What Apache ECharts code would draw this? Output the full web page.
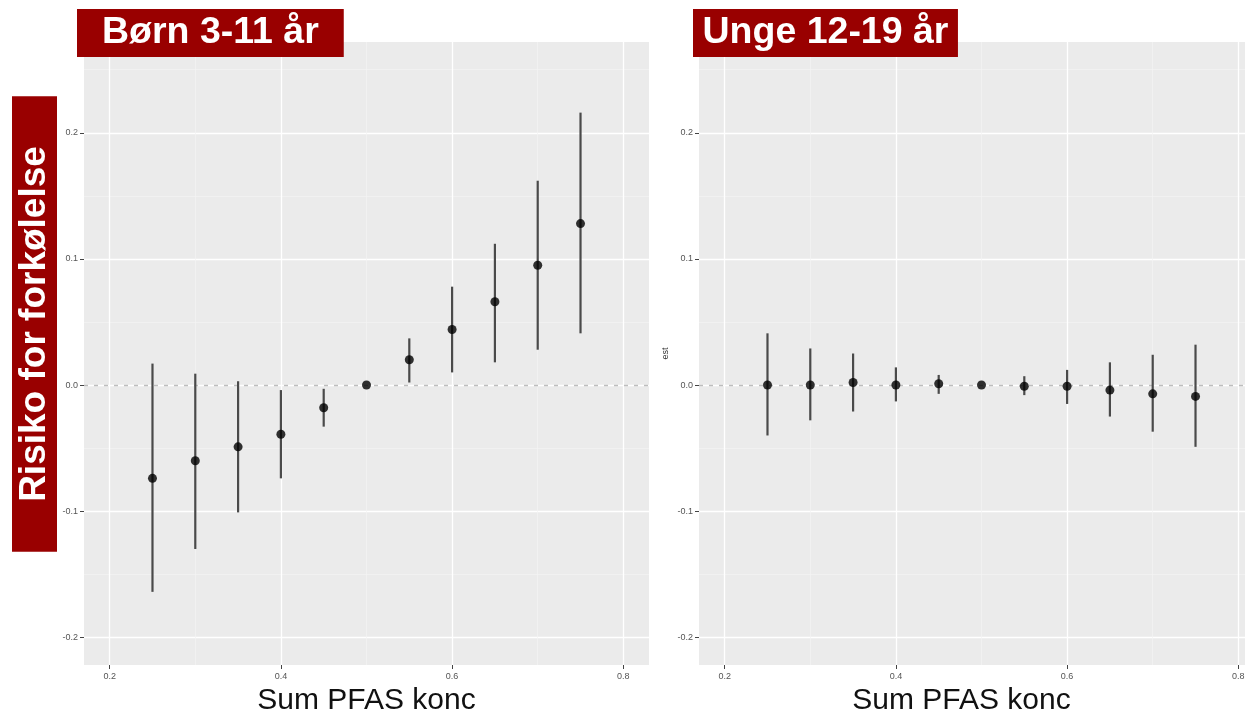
<!DOCTYPE html>
<html>
<head>
    <meta charset="utf-8" />
    <title>PFAS og forkølelse</title>
    <script src="https://cdn.jsdelivr.net/npm/echarts@6/dist/echarts.min.js"></script>
    <style>
        html, body {
            width: 100%;
            height: 100%;
            margin: 0px;
            padding: 0px;
            background: #fff;
        }
        #main {
            width: 1245px;
            height: 712px;
        }
    </style>
</head>
<body>
    <div id="main"></div>
</body>
<script type="text/javascript">
    // values
    var conc = [0.25, 0.30, 0.35, 0.40, 0.45, 0.50, 0.55, 0.60, 0.65, 0.70, 0.75];

    var childEst = [-0.074, -0.060, -0.049, -0.039, -0.018, 0, 0.020, 0.044, 0.066, 0.095, 0.128];
    var childLo = [-0.164, -0.130, -0.101, -0.074, -0.033, 0, 0.002, 0.010, 0.018, 0.028, 0.041];
    var childHi = [0.017, 0.009, 0.003, -0.004, -0.003, 0, 0.037, 0.078, 0.112, 0.162, 0.216];

    var teenEst = [0.000, 0.000, 0.002, 0.000, 0.001, 0, -0.001, -0.001, -0.004, -0.007, -0.009];
    var teenLo = [-0.040, -0.028, -0.021, -0.013, -0.007, 0, -0.008, -0.015, -0.025, -0.037, -0.049];
    var teenHi = [0.041, 0.029, 0.025, 0.014, 0.008, 0, 0.007, 0.012, 0.018, 0.024, 0.032];

    var xTicks = [0.2, 0.4, 0.6, 0.8];
    var xMinor = [0.3, 0.5, 0.7];
    var yTicks = [-0.2, -0.1, 0.0, 0.1, 0.2];
    var yMinor = [-0.15, -0.05, 0.05, 0.15, 0.25];

    var panelTitles = ['Børn 3-11 år', 'Unge 12-19 år'];
    var yTitle = 'Risiko for forkølelse';
    var xTitle = 'Sum PFAS konc';

    var font = 'Liberation Sans, Arial, sans-serif';
    var red = '#990000';

    var myChart = echarts.init(document.getElementById('main'));

    function fmt(v) {
        return v.toFixed(1);
    }

    function mainX(gridIndex, namePad) {
        return {
            type: 'value', gridIndex: gridIndex, min: 0.17, max: 0.83,
            name: xTitle, nameLocation: 'middle', nameGap: 12,
            nameTextStyle: { fontFamily: font, fontSize: 30, color: '#111', padding: namePad },
            axisLine: { show: false, onZero: false },
            axisTick: { show: true, length: 4, customValues: xTicks, lineStyle: { color: '#444' } },
            axisLabel: { customValues: xTicks, formatter: fmt, fontFamily: font, fontSize: 9, color: '#555', margin: 7 },
            splitLine: { show: true, lineStyle: { color: '#fff', width: 1.3 } }
        };
    }

    function minorX(gridIndex) {
        return {
            type: 'value', gridIndex: gridIndex, min: 0.17, max: 0.83, position: 'top',
            axisLine: { show: false, onZero: false },
            axisTick: { show: false, customValues: xMinor },
            axisLabel: { show: false, customValues: xMinor },
            splitLine: { show: true, lineStyle: { color: '#f4f4f4', width: 0.7 } }
        };
    }

    function mainY(gridIndex, name, nameGap) {
        return {
            type: 'value', gridIndex: gridIndex, min: -0.222, max: 0.272,
            name: name, nameLocation: 'middle', nameRotate: 90, nameGap: nameGap,
            nameTextStyle: { fontFamily: font, fontSize: 9, color: '#333' },
            axisLine: { show: false, onZero: false },
            axisTick: { show: true, length: 4, customValues: yTicks, lineStyle: { color: '#444' } },
            axisLabel: { customValues: yTicks, formatter: fmt, fontFamily: font, fontSize: 9, color: '#555', margin: 6 },
            splitLine: { show: true, lineStyle: { color: '#fff', width: 1.3 } }
        };
    }

    function minorY(gridIndex) {
        return {
            type: 'value', gridIndex: gridIndex, min: -0.222, max: 0.272, position: 'right',
            axisLine: { show: false, onZero: false },
            axisTick: { show: false, customValues: yMinor },
            axisLabel: { show: false, customValues: yMinor },
            splitLine: { show: true, lineStyle: { color: '#f4f4f4', width: 0.7 } }
        };
    }

    function errorBars(idx, lo, hi) {
        return {
            type: 'custom',
            xAxisIndex: idx,
            yAxisIndex: idx,
            silent: true,
            z: 2,
            data: conc.map(function (c, i) { return [c, lo[i], hi[i]]; }),
            encode: { x: 0, y: [1, 2] },
            renderItem: function (params, api) {
                var a = api.coord([api.value(0), api.value(1)]);
                var b = api.coord([api.value(0), api.value(2)]);
                return {
                    type: 'line',
                    shape: { x1: a[0], y1: a[1], x2: b[0], y2: b[1] },
                    style: { stroke: '#4a4a4a', lineWidth: 2.2 }
                };
            },
            markLine: {
                silent: true,
                z: 1,
                symbol: ['none', 'none'],
                label: { show: false },
                lineStyle: { color: '#bdbdbd', type: [4, 6], width: 1.3 },
                data: [{ yAxis: 0 }]
            }
        };
    }

    function points(idx, est) {
        return {
            type: 'scatter',
            xAxisIndex: idx,
            yAxisIndex: idx,
            silent: true,
            z: 3,
            symbolSize: 9,
            itemStyle: { color: '#000' },
            data: conc.map(function (c, i) { return [c, est[i]]; })
        };
    }

    function titleBox(text, left, padX) {
        return {
            text: text, left: left, top: 9,
            backgroundColor: red,
            padding: [5, padX, 5, padX],
            textStyle: { fontFamily: font, fontSize: 37.5, fontWeight: 'bold', color: '#fff' }
        };
    }

    myChart.setOption({
        backgroundColor: '#fff',
        animation: false,
        title: [titleBox(panelTitles[0], 77, 25), titleBox(panelTitles[1], 693, 9.5)],
        grid: [
            { left: 84, top: 42, width: 565, height: 623, outerBoundsMode: 'none', show: true, backgroundColor: '#ebebeb', borderWidth: 0 },
            { left: 699, top: 42, width: 565, height: 623, outerBoundsMode: 'none', show: true, backgroundColor: '#ebebeb', borderWidth: 0 }
        ],
        xAxis: [mainX(0, [0, 0, 0, 0]), mainX(1, [0, 40, 0, 0]), minorX(0), minorX(1)],
        yAxis: [mainY(0, '', 27), mainY(1, 'est', 29), minorY(0), minorY(1)],
        graphic: [{
            type: 'text',
            x: 34.5,
            y: 324,
            rotation: Math.PI / 2,
            silent: true,
            style: {
                text: yTitle,
                fill: '#fff',
                font: 'bold 37px ' + font,
                align: 'center',
                verticalAlign: 'middle',
                backgroundColor: red,
                padding: [4, 50, 4, 50]
            }
        }],
        series: [
            errorBars(0, childLo, childHi),
            points(0, childEst),
            errorBars(1, teenLo, teenHi),
            points(1, teenEst)
        ]
    });
</script>
</html>
